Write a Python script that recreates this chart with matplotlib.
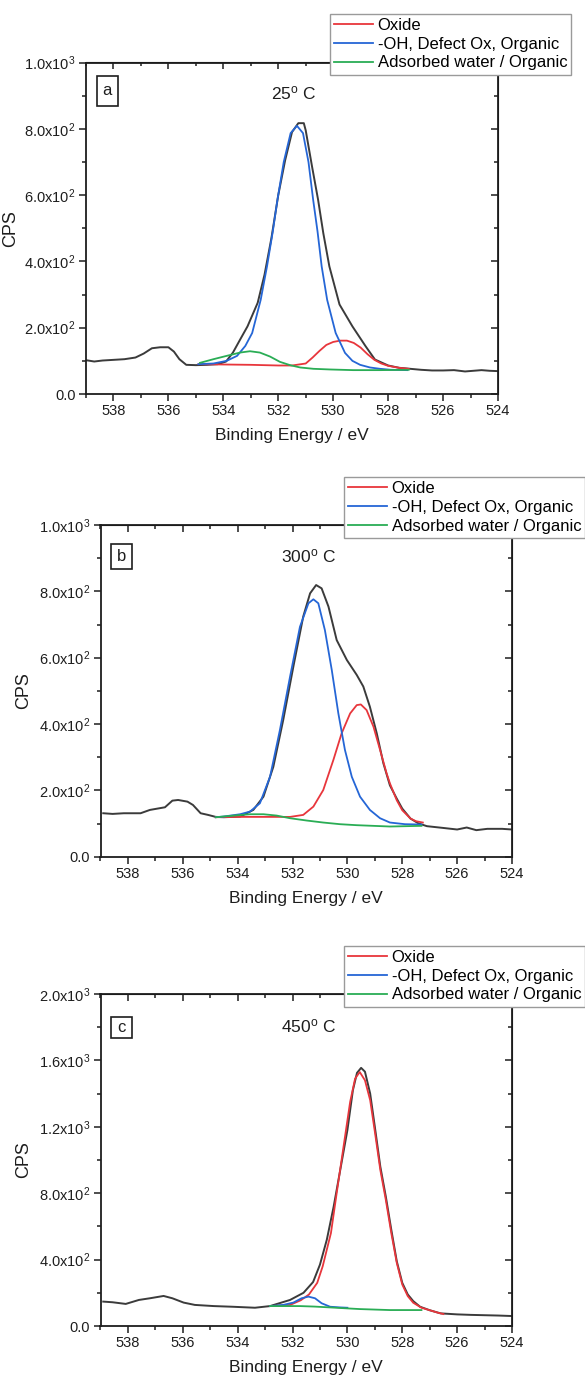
import numpy as np
import matplotlib
matplotlib.use("Agg")
import matplotlib.pyplot as plt
from matplotlib.patches import Rectangle
from matplotlib.ticker import MultipleLocator, FuncFormatter

plt.rcParams['font.family'] = ['Liberation Sans', 'DejaVu Sans']
plt.rcParams['mathtext.default'] = 'regular'

# ---- panel a, 25 C ----
a_data_E = [539.0, 538.7, 538.4, 538.0, 537.6, 537.2, 536.9, 536.6, 536.3, 536.0, 535.8, 535.6,
            535.35, 535.0, 534.6, 534.2, 533.9, 533.65, 533.39, 533.12, 532.75, 532.5, 532.25,
            532.0, 531.75, 531.5, 531.27, 531.07, 531.0, 530.77, 530.55, 530.36, 530.14, 529.77,
            529.3, 528.82, 528.48, 528.0, 527.6, 527.2, 526.8, 526.4, 526.0, 525.6, 525.2, 524.9,
            524.6, 524.3, 524.0]
a_data_cps = [102, 98, 101, 103, 105, 110, 122, 138, 141, 141, 128, 105,
              88, 87, 88, 90, 98, 125, 164, 204, 275, 360, 470,
              600, 705, 790, 817, 817, 795, 686, 586, 485, 385, 270,
              204, 144, 104, 86, 79, 76, 73, 71, 71, 72, 68, 70,
              72, 70, 69]
a_oxide_E = [534.9, 534.0, 533.0, 532.0, 531.5, 531.0, 530.75, 530.5, 530.25, 530.0, 529.75, 529.5,
             529.25, 529.0, 528.75, 528.5, 528.25, 528.0, 527.6, 527.25]
a_oxide_cps = [90, 89, 88, 86, 86, 92, 110, 130, 148, 157, 161, 161,
               154, 140, 120, 103, 92, 85, 79, 76]
a_oh_E = [534.91, 534.36, 533.88, 533.5, 533.2, 532.95, 532.64, 532.41, 532.2, 532.03, 531.8,
          531.55, 531.32, 531.1, 530.9, 530.73, 530.57, 530.42, 530.22, 529.91, 529.57, 529.3,
          529.02, 528.66, 528.3, 527.9, 527.3]
a_oh_cps = [90, 92, 100, 115, 145, 184, 284, 385, 490, 586, 700,
            787, 809, 787, 700, 586, 490, 385, 284, 184, 124, 100,
            88, 80, 76, 73, 72]
a_water_E = [534.85, 534.36, 533.88, 533.39, 533.03, 532.67, 532.3, 531.94, 531.57, 531.2, 530.72,
             530.12, 529.27, 528.3, 527.25]
a_water_cps = [94, 105, 115, 125, 129, 125, 113, 97, 87, 80, 76,
               74, 72, 72, 73]

# ---- panel b, 300 C ----
b_data_E = [538.9, 538.56, 538.15, 537.54, 537.2, 536.65, 536.38, 536.17, 535.83, 535.63, 535.35,
            535.08, 534.8, 534.5, 533.91, 533.43, 533.06, 532.7, 532.34, 531.97, 531.61, 531.36,
            531.14, 530.94, 530.69, 530.39, 530.02, 529.66, 529.42, 529.18, 528.93, 528.69, 528.45,
            528.2, 528.0, 527.7, 527.4, 527.1, 526.54, 526.0, 525.65, 525.3, 524.9, 524.36, 524.0]
b_data_cps = [131, 129, 131, 131, 141, 149, 169, 171, 166, 156, 131,
              126, 120, 119, 121, 141, 181, 271, 412, 573, 724, 794,
              819, 809, 754, 653, 593, 548, 513, 452, 372, 282, 215,
              175, 145, 115, 100, 92, 87, 82, 88, 80, 84, 84, 82]
b_oxide_E = [534.8, 534.0, 533.0, 532.09, 531.61, 531.24, 530.88, 530.51, 530.21, 529.9, 529.66,
             529.51, 529.3, 529.05, 528.81, 528.57, 528.45, 528.2, 528.0, 527.7, 527.5, 527.25]
b_oxide_cps = [119, 120, 120, 120, 126, 151, 201, 292, 372, 432, 457,
               459, 442, 392, 322, 251, 221, 170, 140, 115, 107, 103]
b_oh_E = [534.8, 534.52, 533.91, 533.55, 533.19, 532.82, 532.46, 532.09, 531.73, 531.42, 531.24,
          531.06, 530.82, 530.57, 530.33, 530.09, 529.84, 529.54, 529.18, 528.81, 528.45, 527.9,
          527.3]
b_oh_cps = [119, 121, 128, 136, 161, 241, 382, 543, 693, 764, 776,
            764, 683, 563, 432, 322, 241, 181, 141, 116, 103, 98,
            97]
b_water_E = [534.8, 534.28, 533.55, 533.06, 532.58, 532.09, 531.48, 530.88, 530.27, 529.66, 529.05,
             528.45, 527.3]
b_water_cps = [119, 123, 128, 128, 124, 116, 109, 103, 98, 95, 93,
               91, 93]

# ---- panel c, 450 C ----
c_data_E = [538.9, 538.56, 538.08, 537.6, 537.2, 536.7, 536.38, 535.97, 535.56, 534.87, 534.19,
            533.37, 532.82, 532.09, 531.6, 531.25, 531.0, 530.75, 530.5, 530.25, 530.0, 529.8,
            529.65, 529.5, 529.36, 529.17, 529.0, 528.8, 528.6, 528.4, 528.2, 528.0, 527.8,
            527.6, 527.35, 527.0, 526.6, 526.0, 525.5, 525.0, 524.5, 524.0]
c_data_cps = [147, 143, 133, 157, 167, 181, 167, 141, 127, 120, 116,
              110, 120, 157, 200, 265, 370, 520, 720, 950, 1180, 1420,
              1525, 1555, 1532, 1400, 1200, 960, 780, 580, 390, 260, 190,
              150, 116, 95, 76, 70, 67, 65, 63, 60]
c_oxide_E = [532.82, 532.09, 531.7, 531.4, 531.1, 530.9, 530.6, 530.4, 530.15, 529.9, 529.72,
             529.55, 529.36, 529.17, 528.99, 528.8, 528.6, 528.4, 528.2, 528.0, 527.8, 527.6,
             527.3, 527.0, 526.7, 526.5]
c_oxide_cps = [120, 127, 155, 190, 260, 360, 560, 790, 1070, 1350, 1490,
               1530, 1480, 1360, 1160, 940, 760, 560, 380, 250, 180, 140,
               110, 95, 80, 72]
c_oh_E = [532.82, 532.34, 531.97, 531.67, 531.42, 531.18, 530.94, 530.63, 530.27, 530.0]
c_oh_cps = [120, 127, 141, 167, 177, 167, 137, 116, 112, 110]
c_water_E = [532.82, 532.3, 531.73, 531.2, 530.64, 530.1, 529.55, 529.0, 528.45, 527.9, 527.3]
c_water_cps = [120, 120, 120, 117, 112, 107, 102, 99, 96, 96, 96]

panel_tags = ['a', 'b', 'c']
temperatures = ['25', '300', '450']
y_max = [1000, 1000, 2000]
y_major = [200, 200, 400]
legend_labels = ['Oxide', '-OH, Defect Ox, Organic', 'Adsorbed water / Organic']

RED = '#e8363c'
BLUE = '#2566d6'
GREEN = '#2aad55'
BLACK = '#3b3b3b'
INK = '#1e1e1e'

W, H = 585, 1378
fig = plt.figure(figsize=(W / 100, H / 100), dpi=100)


def px_box(left, top, right, bottom):
    return [left / W, 1 - bottom / H, (right - left) / W, (bottom - top) / H]


def sci_fmt(v, pos):
    if v <= 0:
        return '0.0'
    exp = int(np.floor(np.log10(v) + 1e-9))
    mant = v / 10 ** exp
    return '%.1fx10$^{%d}$' % (mant, exp)


# pixel geometry: axes frame, legend corner, tag box, temperature centre, CPS label x
layout = [
    dict(ax=(86, 62.5, 498, 394), leg=(330, 14), tag=(96.5, 76, 118, 105.5), temp=(294, 93), ylab=19),
    dict(ax=(100.5, 525, 512, 856.7), leg=(344, 477), tag=(110.6, 544, 132, 568.7), temp=(308.7, 556), ylab=32),
    dict(ax=(100.5, 994, 512, 1326), leg=(344, 946), tag=(110.6, 1017, 132, 1038), temp=(308.7, 1026), ylab=32),
]

series = [
    (a_data_E, a_data_cps, a_oxide_E, a_oxide_cps, a_oh_E, a_oh_cps, a_water_E, a_water_cps),
    (b_data_E, b_data_cps, b_oxide_E, b_oxide_cps, b_oh_E, b_oh_cps, b_water_E, b_water_cps),
    (c_data_E, c_data_cps, c_oxide_E, c_oxide_cps, c_oh_E, c_oh_cps, c_water_E, c_water_cps),
]

for i in range(3):
    lay = layout[i]
    dE, dC, oE, oC, hE, hC, wE, wC = series[i]
    ax = fig.add_axes(px_box(*lay['ax']))

    ax.plot(dE, dC, color=BLACK, lw=1.4, zorder=2)
    l1, = ax.plot(oE, oC, color=RED, lw=1.3, zorder=3)
    l2, = ax.plot(hE, hC, color=BLUE, lw=1.3, zorder=3)
    l3, = ax.plot(wE, wC, color=GREEN, lw=1.3, zorder=3)

    ax.set_xlim(539, 524)
    ax.set_ylim(0, y_max[i])
    ax.xaxis.set_major_locator(MultipleLocator(2))
    ax.xaxis.set_minor_locator(MultipleLocator(1))
    ax.yaxis.set_major_locator(MultipleLocator(y_major[i]))
    ax.yaxis.set_minor_locator(MultipleLocator(y_major[i] / 2))
    ax.yaxis.set_major_formatter(FuncFormatter(sci_fmt))
    ax.tick_params(which='both', direction='out', labelsize=10.5, width=1.1, colors=INK, pad=2.5)
    ax.tick_params(which='major', length=5)
    ax.tick_params(which='minor', length=3)
    for s in ax.spines.values():
        s.set_linewidth(1.3)
        s.set_color(INK)

    # mirrored inward ticks on top and right
    top = ax.secondary_xaxis('top')
    top.xaxis.set_major_locator(MultipleLocator(2))
    top.xaxis.set_minor_locator(MultipleLocator(1))
    top.tick_params(which='both', direction='in', labeltop=False, width=1.1, colors=INK)
    top.tick_params(which='major', length=5)
    top.tick_params(which='minor', length=3)
    right = ax.secondary_yaxis('right')
    right.yaxis.set_major_locator(MultipleLocator(y_major[i]))
    right.yaxis.set_minor_locator(MultipleLocator(y_major[i] / 2))
    right.tick_params(which='both', direction='in', labelright=False, width=1.1, colors=INK)
    right.tick_params(which='major', length=5)
    right.tick_params(which='minor', length=3)

    ax.set_xlabel('Binding Energy / eV', fontsize=12.5, labelpad=7, color=INK)
    ax.set_ylabel('CPS', fontsize=13, color=INK)
    left_px, top_px, right_px, bot_px = lay['ax']
    ax.yaxis.set_label_coords((lay['ylab'] - left_px) / (right_px - left_px), 0.5)

    # panel tag in a plain box
    bx0, by0, bx1, by1 = lay['tag']
    fig.add_artist(Rectangle((bx0 / W, 1 - by1 / H), (bx1 - bx0) / W, (by1 - by0) / H,
                             transform=fig.transFigure, fill=False, ec=INK, lw=1.2))
    fig.text((bx0 + bx1) / 2 / W, 1 - (by0 + by1) / 2 / H, panel_tags[i], fontsize=12,
             ha='center', va='center', color=INK)

    mx, my = lay['temp']
    fig.text(mx / W, 1 - my / H, temperatures[i] + '$^{o}$ C', fontsize=12.5,
             ha='center', va='center', color=INK)

    lx, ly = lay['leg']
    leg = ax.legend([l1, l2, l3], legend_labels, loc='upper left',
                    bbox_to_anchor=(lx / W, 1 - ly / H), bbox_transform=fig.transFigure,
                    fontsize=12, frameon=True, fancybox=False, framealpha=1,
                    edgecolor='#9a9a9a', borderaxespad=0, borderpad=0.25,
                    handlelength=2.3, handletextpad=0.3, labelspacing=0.22)
    leg.get_frame().set_linewidth(1.0)
    leg.set_zorder(10)

fig.savefig('out.png', dpi=100)
